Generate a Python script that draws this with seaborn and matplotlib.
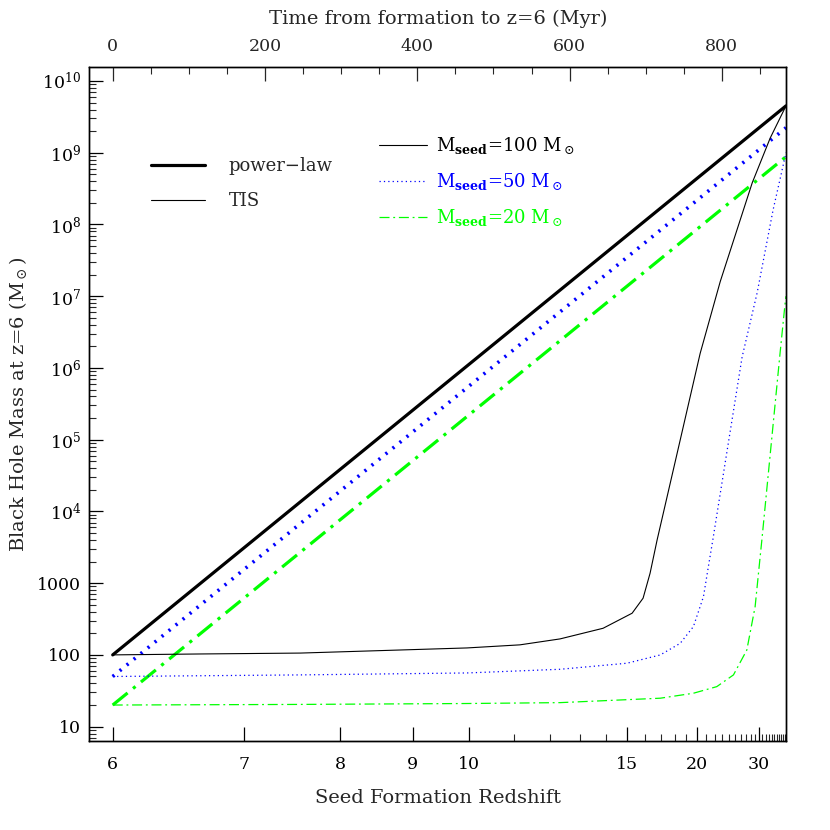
import matplotlib

matplotlib.use("Agg")

import matplotlib.pyplot as plt
import numpy as np
import pandas as pd
import seaborn as sns
from matplotlib.lines import Line2D
from matplotlib.ticker import FixedLocator, FuncFormatter, LogLocator, MultipleLocator, NullFormatter

sns.set_theme(style="ticks")
plt.rcParams["font.family"] = ["DejaVu Serif"]
plt.rcParams["mathtext.fontset"] = "dejavuserif"
plt.rcParams["figure.dpi"] = 100

# axis ranges and bottom tick marks (redshift)
z_lim = (5.854, 40.4)
m_lim = (6.3, 1.55e10)
z_major = [6, 7, 8, 9, 10, 15, 20, 30]
z_minor = [11, 12, 13, 14, 16, 17, 18, 19] + list(range(21, 30)) + list(range(31, 41))

# power-law growth (straight in time)
pl_z = [6.0, 40.4]
pl_m100 = [100, 4.5e9]
pl_m50 = [50, 2.23e9]
pl_m20 = [20, 8.8e8]

# TIS curves
tis_z100 = [6.0, 6.63, 7.55, 8.81, 9.96, 11.15, 12.30, 13.89, 15.27, 15.88, 16.30, 16.75,
            18.46, 20.32, 22.71, 28.39, 33.50, 40.4]
tis_m100 = [100, 103, 106, 117, 125, 138, 167, 235, 381, 617, 1375, 4000,
            9.9e4, 1.6e6, 1.6e7, 3.8e8, 1.6e9, 4.5e9]

tis_z50 = [6.0, 7.55, 9.96, 12.30, 15.0, 16.96, 18.46, 19.64, 20.67, 21.22, 21.75,
           26.25, 29.59, 34.54, 40.4]
tis_m50 = [50, 52.6, 56, 63, 76.5, 99.8, 145, 248, 649, 1700, 4000,
           1.42e6, 1.11e7, 1.59e8, 1.0e9]

tis_z20 = [6.0, 7.55, 9.96, 12.30, 16.96, 19.64, 22.25, 24.70, 27.20, 29.09, 30.40, 30.88,
           37.44, 39.93, 40.4]
tis_m20 = [20, 20.4, 21.0, 21.6, 24.9, 29.2, 36.1, 52.6, 117, 471, 2340, 4000,
           1.62e6, 8.05e6, 1.0e7]

T_SCALE = 17600.0  # Myr, matter-dominated age normalisation


def z_to_t(z):
    z = np.clip(np.asarray(z, dtype=float), -0.99, None)
    return T_SCALE * (7.0 ** -1.5 - (1.0 + z) ** -1.5)


def t_to_z(t):
    u = np.clip(7.0 ** -1.5 - np.asarray(t, dtype=float) / T_SCALE, 1e-6, None)
    return u ** (-2.0 / 3.0) - 1.0


def ylabel_fmt(v, pos):
    if v < 1e4:
        return f"{v:g}"
    return rf"$10^{{{int(round(np.log10(v)))}}}$"


fig = plt.figure(figsize=(8.3, 8.3))
ax = fig.add_axes([0.1078, 0.1072, 0.8392, 0.8117])

blue = "#0000FF"
green = "#00FF00"

curves = [
    (pl_z, pl_m100, "black", 2.3, "-"),
    (pl_z, pl_m50, blue, 2.6, (0, (0.6, 1.9))),
    (pl_z, pl_m20, green, 2.3, (0, (6, 2.2, 1, 2.2))),
    (tis_z100, tis_m100, "black", 0.8, "-"),
    (tis_z50, tis_m50, blue, 0.9, (0, (1, 2.5))),
    (tis_z20, tis_m20, green, 0.9, (0, (8, 3, 1.5, 3))),
]
for zs, ms, color, lw, ls in curves:
    df = pd.DataFrame({"z": zs, "m": ms})
    sns.lineplot(data=df, x="z", y="m", ax=ax, color=color, lw=lw, linestyle=ls,
                 estimator=None, sort=False, legend=False)

ax.set_xscale("function", functions=(z_to_t, t_to_z))
ax.set_yscale("log")
ax.set_xlim(*z_lim)
ax.set_ylim(*m_lim)

ax.xaxis.set_major_locator(FixedLocator(z_major))
ax.xaxis.set_minor_locator(FixedLocator(z_minor))
ax.xaxis.set_major_formatter(FuncFormatter(lambda v, p: f"{v:g}"))
ax.xaxis.set_minor_formatter(NullFormatter())
ax.yaxis.set_major_locator(LogLocator(base=10, numticks=20))
ax.yaxis.set_minor_locator(LogLocator(base=10, subs=np.arange(2, 10), numticks=20))
ax.yaxis.set_major_formatter(FuncFormatter(ylabel_fmt))
ax.yaxis.set_minor_formatter(NullFormatter())

ax.tick_params(which="major", direction="in", length=10, width=0.9, labelsize=12.5, colors="black")
ax.tick_params(which="minor", direction="in", length=5, width=0.8)
ax.tick_params(axis="x", which="both", pad=11)
ax.tick_params(axis="y", which="both", pad=6)

ax.set_xlabel("Seed Formation Redshift", fontsize=14, labelpad=11)
ax.set_ylabel(r"Black Hole Mass at z=6 (M$_\odot$)", fontsize=14, labelpad=6)

ax2 = ax.twiny()
ax2.set_xlim(float(z_to_t(z_lim[0])), float(z_to_t(z_lim[1])))
ax2.xaxis.set_major_locator(MultipleLocator(200))
ax2.xaxis.set_minor_locator(MultipleLocator(50))
ax2.tick_params(which="major", direction="in", length=10, width=0.9, labelsize=12.5, pad=9)
ax2.tick_params(which="minor", direction="in", length=5, width=0.8)
ax2.set_xlabel("Time from formation to z=6 (Myr)", fontsize=14, labelpad=10)

for a in (ax, ax2):
    for s in a.spines.values():
        s.set_color("black")
        s.set_linewidth(1.0)
ax.grid(False)
ax2.grid(False)

h1 = [Line2D([], [], color="black", lw=2.3), Line2D([], [], color="black", lw=0.8)]
leg1 = ax.legend(h1, ["power\u2212law", "TIS"], loc="upper left", bbox_to_anchor=(0.088, 0.867),
                 frameon=False, fontsize=13, handlelength=3.0, handletextpad=1.3,
                 labelspacing=0.97, borderpad=0, borderaxespad=0)
ax.add_artist(leg1)

h2 = [Line2D([], [], color="black", lw=0.8),
      Line2D([], [], color=blue, lw=0.9, linestyle=(0, (1, 2.5))),
      Line2D([], [], color=green, lw=0.9, linestyle=(0, (8, 3, 1.5, 3)))]
labels2 = [r"M$_{\mathbf{seed}}$=100 M$_\odot$", r"M$_{\mathbf{seed}}$=50 M$_\odot$",
           r"M$_{\mathbf{seed}}$=20 M$_\odot$"]
ax.legend(h2, labels2, loc="upper left", bbox_to_anchor=(0.415, 0.899), frameon=False,
          fontsize=13, handlelength=2.7, handletextpad=0.5, labelspacing=0.82,
          borderpad=0, borderaxespad=0, labelcolor=["black", blue, green])

fig.savefig("out.png", dpi=100, facecolor="white")
